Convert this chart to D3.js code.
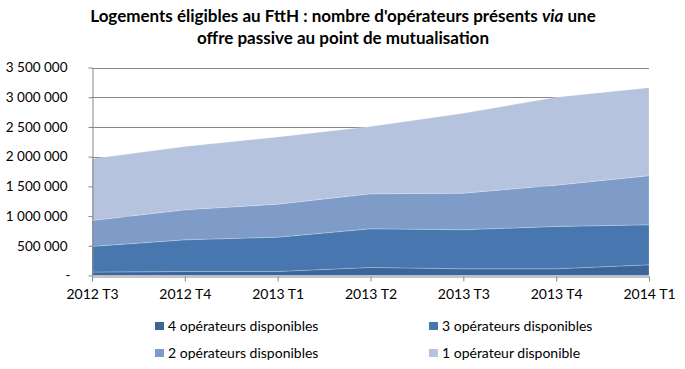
<!DOCTYPE html>
<html lang="fr">
  <head>
    <meta charset="utf-8" />
    <title>Logements éligibles au FttH</title>
    <script src="https://d3js.org/d3.v7.min.js"></script>
    <style>
      body { margin: 0; background: #fff; }
      text { font-family: Lato, "Open Sans", sans-serif; }
    </style>
  </head>
  <body>
    <div id="chart"></div>
    <script>
      // data
      const quarters = ["2012 T3", "2012 T4", "2013 T1", "2013 T2", "2013 T3", "2013 T4", "2014 T1"];
      const seriesNames = [
        "4 opérateurs disponibles",
        "3 opérateurs disponibles",
        "2 opérateurs disponibles",
        "1 opérateur disponible"
      ];
      const op4 = [57000, 67000, 68000, 135000, 113000, 113000, 180000];
      const op3 = [433000, 533000, 577000, 651000, 657000, 712000, 673000];
      const op2 = [435000, 505000, 555000, 589000, 615000, 695000, 827000];
      const op1 = [1038000, 1065000, 1130000, 1132000, 1345000, 1480000, 1480000];
      const yTicks = [0, 500000, 1000000, 1500000, 2000000, 2500000, 3000000, 3500000];
      const colors = ["#3d6598", "#4877b0", "#7f9cc8", "#b6c3de"];

      const cW = 685, cH = 369;
      const pLeft = 92, pRight = 649, pTop = 67.5, pBottom = 275.5;

      const svg = d3.select("#chart").append("svg")
        .attr("width", cW).attr("height", cH);

      const rows = quarters.map((q, i) => ({
        q, [seriesNames[0]]: op4[i], [seriesNames[1]]: op3[i],
        [seriesNames[2]]: op2[i], [seriesNames[3]]: op1[i]
      }));
      const stacked = d3.stack().keys(seriesNames)(rows);

      const x = d3.scalePoint().domain(quarters).range([pLeft, pRight]);
      const y = d3.scaleLinear().domain([0, 3500000]).range([pBottom, pTop]);

      //gridlines
      svg.append("g").selectAll("line")
        .data(yTicks.slice(1)).join("line")
        .attr("x1", pLeft).attr("x2", pRight)
        .attr("y1", d => Math.round(y(d)) + 0.5).attr("y2", d => Math.round(y(d)) + 0.5)
        .attr("stroke", "#878787").attr("stroke-width", 1);

      //areas
      const area = d3.area()
        .x(d => x(d.data.q))
        .y0(d => y(d[0]))
        .y1(d => y(d[1]));
      svg.append("g").selectAll("path")
        .data(stacked).join("path")
        .attr("d", area)
        .attr("fill", (d, i) => colors[i])
        .attr("stroke", "rgba(255,255,255,0.35)")
        .attr("stroke-width", 0.6);

      //y axis
      const fmt = v => v === 0 ? "-" : d3.format(",")(v).replace(/,/g, " ");
      const yAxis = svg.append("g")
        .attr("transform", `translate(${pLeft + 0.5},0)`)
        .call(d3.axisLeft(y).tickValues(yTicks).tickSize(4).tickSizeOuter(0).tickFormat(fmt));
      yAxis.select(".domain").attr("stroke", "#878787");
      yAxis.selectAll(".tick line").attr("stroke", "#878787");
      yAxis.selectAll(".tick text")
        .attr("x", -25).attr("fill", "#000")
        .style("font-size", "13.5px")
        .style("font-family", "Lato, sans-serif");
      yAxis.selectAll(".tick").filter(d => d === 0).select("text").attr("x", -22);

      //x axis
      const xAxis = svg.append("g")
        .attr("transform", `translate(0,${Math.round(pBottom) + 0.5})`)
        .call(d3.axisBottom(x).tickSize(5).tickSizeOuter(0));
      xAxis.select(".domain").attr("stroke", "#878787");
      xAxis.selectAll(".tick line").attr("stroke", "#878787");
      xAxis.selectAll(".tick text")
        .attr("y", 13).attr("fill", "#000")
        .style("font-size", "14px")
        .style("font-family", "Lato, sans-serif");

      //title
      const title = svg.append("text")
        .attr("text-anchor", "middle")
        .attr("font-weight", "bold")
        .style("font-size", "17px");
      const l1 = title.append("tspan").attr("x", 343).attr("y", 22);
      l1.append("tspan").text("Logements éligibles au FttH : nombre d'opérateurs présents ");
      l1.append("tspan").attr("font-style", "italic").text("via");
      l1.append("tspan").text(" une");
      title.append("tspan").attr("x", 343).attr("y", 44)
        .text("offre passive au point de mutualisation");

      //legend
      const legendPos = [[155, 322], [429, 322], [155, 349], [429, 349]];
      const legend = svg.append("g").selectAll("g")
        .data(seriesNames).join("g")
        .attr("transform", (d, i) => `translate(${legendPos[i][0]},${legendPos[i][1]})`);
      legend.append("rect")
        .attr("width", 9).attr("height", 8)
        .attr("fill", (d, i) => colors[i]);
      legend.append("text")
        .attr("x", 13).attr("y", 9)
        .style("font-size", "14px")
        .text(d => d);
    </script>
  </body>
</html>
